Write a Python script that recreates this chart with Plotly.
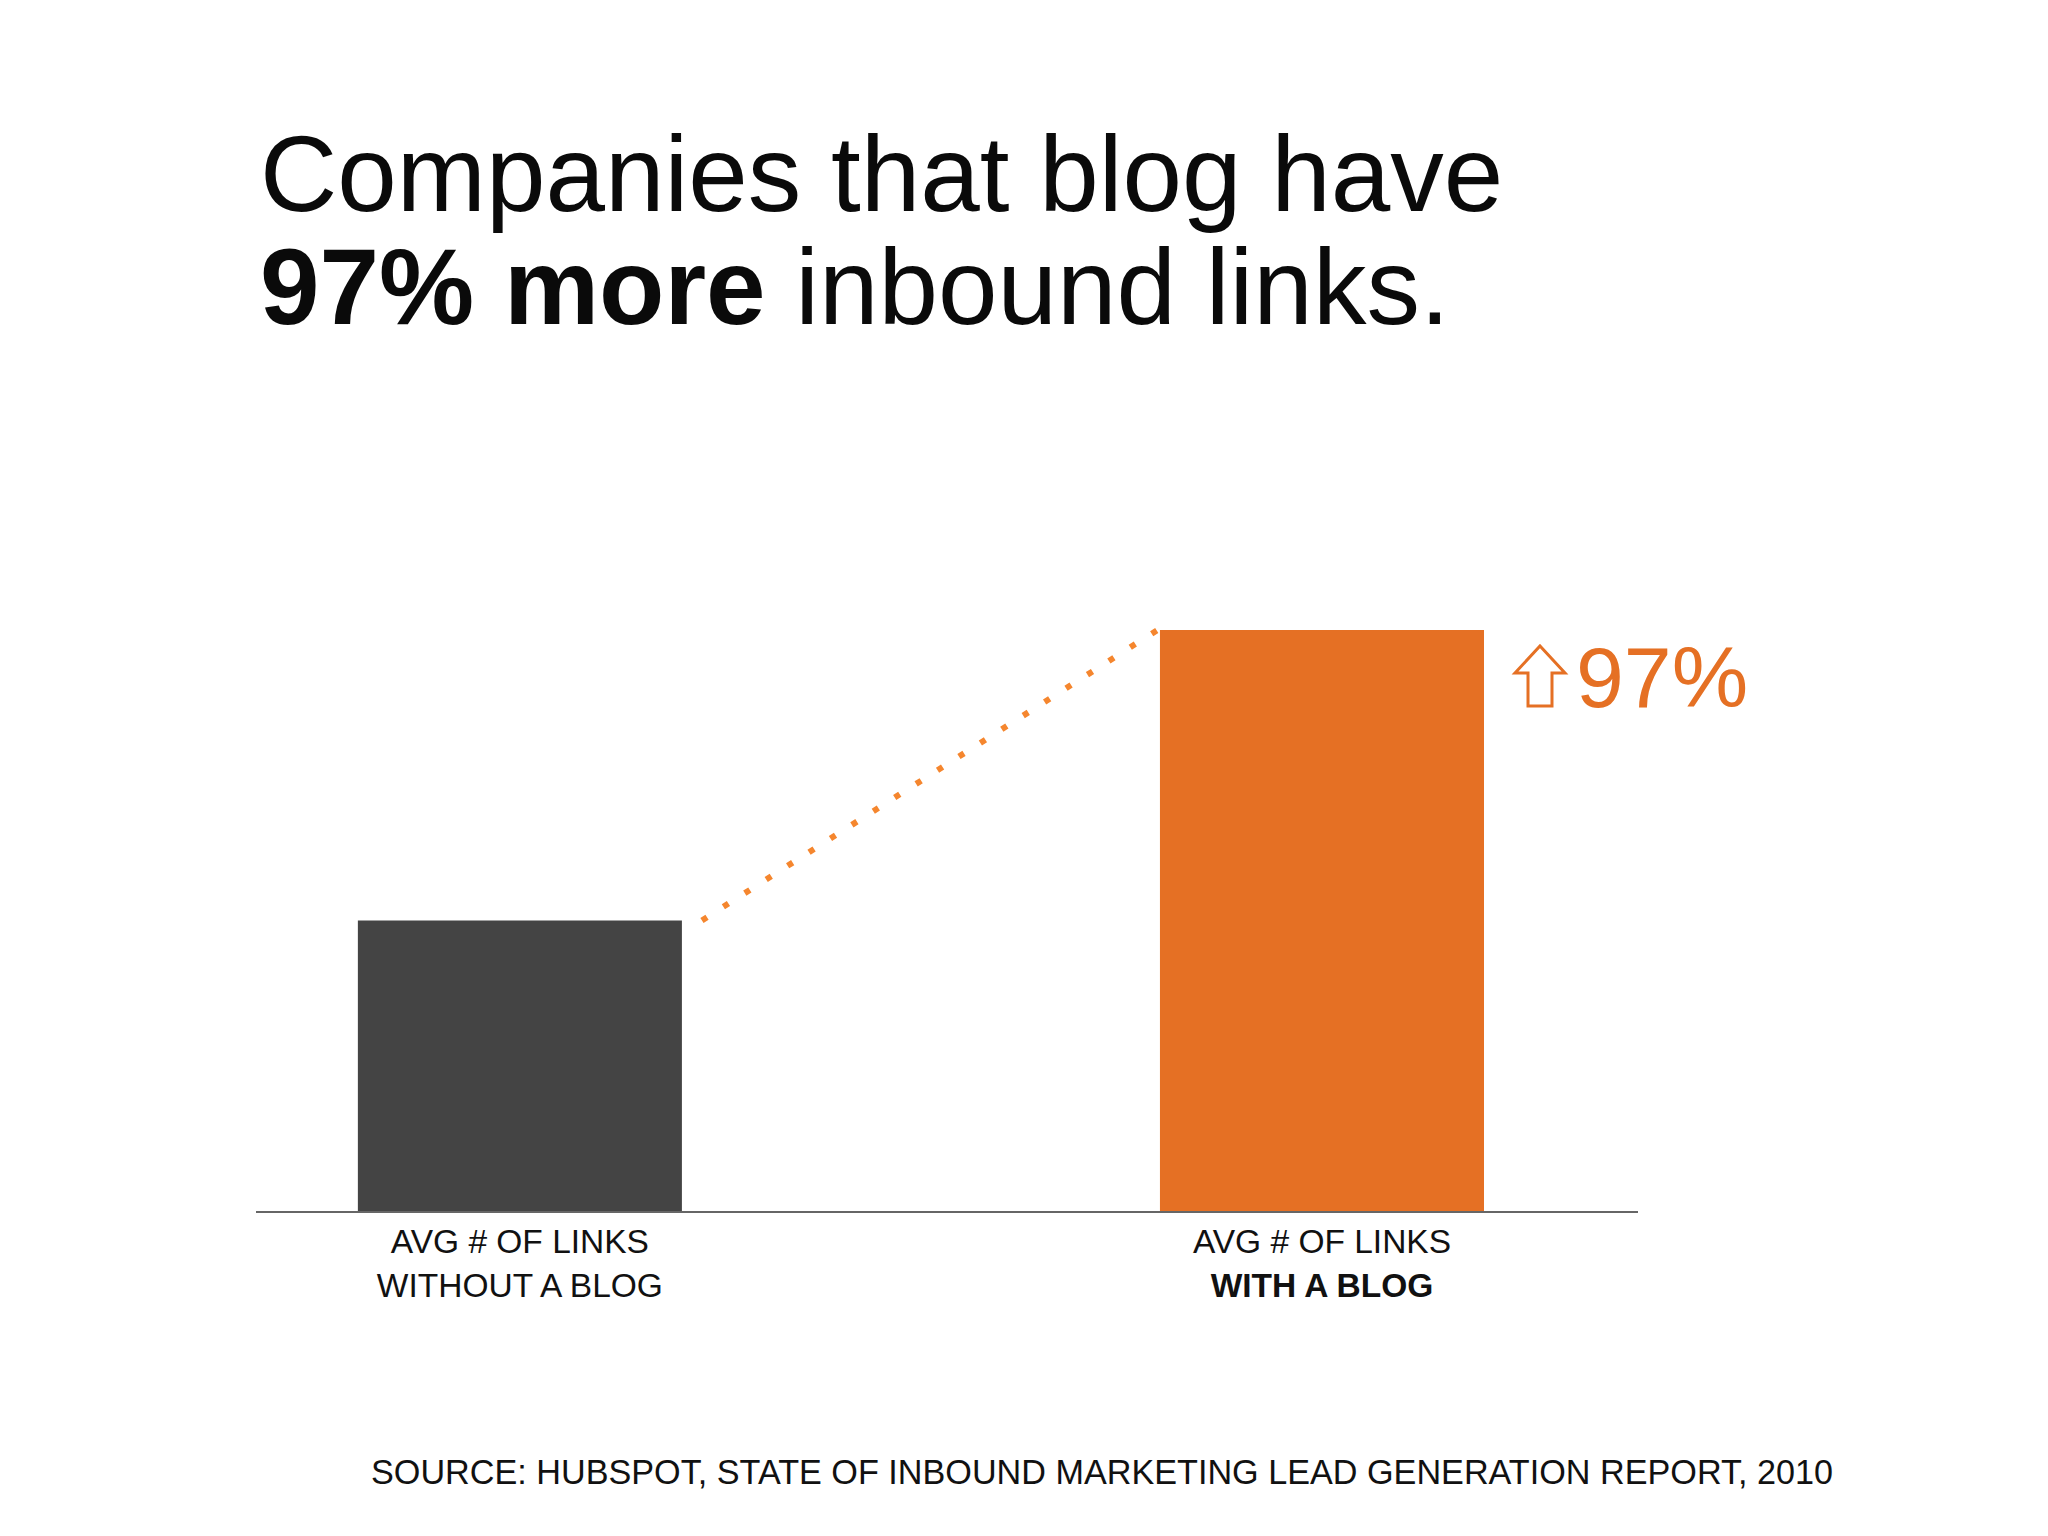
import plotly.graph_objects as go

# ---- data ----
categories = ["AVG # OF LINKS<br>WITHOUT A BLOG", "AVG # OF LINKS<br><b>WITH A BLOG</b>"]
values = [100, 200]
bar_colors = ["#444444", "#E57024"]
increase_label = "97%"
title_line1 = "Companies that blog have"
title_line2 = "<b>97% more</b> inbound links."
source_text = "SOURCE: HUBSPOT, STATE OF INBOUND MARKETING LEAD GENERATION REPORT, 2010"

OFF = 8  # page body margin
W, H = 2048, 1536
ML, MR, MT, MB = 256 - OFF, 410 + OFF, 600 - OFF, 325 + OFF
PW, PH = W - ML - MR, H - MT - MB


def px(x):
    return (x - OFF - ML) / PW


def py(y):
    return (H - MB - (y - OFF)) / PH


FONT = "Liberation Sans, Arial, Helvetica, sans-serif"
ORANGE = "#E57024"
bar_w = 0.404
xpos = list(range(len(values)))

fig = go.Figure()
fig.add_trace(go.Bar(
    x=xpos, y=values, width=bar_w,
    marker=dict(color=bar_colors, line=dict(width=0)),
    hoverinfo="skip",
))

# dotted connector between bar tops
fig.add_trace(go.Scatter(
    x=[xpos[0] + bar_w / 2 + 0.025, xpos[1] - bar_w / 2 - 0.003],
    y=[values[0], values[1]],
    mode="lines",
    line=dict(color="#F5862E", width=6, dash="6px,19.4px"),
    hoverinfo="skip",
))

annotations = [
    dict(text=title_line1, x=px(258), y=py(174), xanchor="left", yanchor="middle",
         font=dict(family=FONT, size=107, color="#0a0a0a")),
    dict(text=title_line2, x=px(258), y=py(287), xanchor="left", yanchor="middle",
         font=dict(family=FONT, size=107, color="#0a0a0a")),
    dict(text=increase_label, x=px(1574), y=py(677), xanchor="left", yanchor="middle",
         font=dict(family=FONT, size=86, color=ORANGE)),
    dict(text=source_text, x=px(1102), y=py(1472), xanchor="center", yanchor="middle",
         font=dict(family=FONT, size=34.2, color="#111111")),
]
for a in annotations:
    a.update(xref="paper", yref="paper", showarrow=False)

# outlined up arrow next to the percentage
pts = [(1540, 646), (1565, 673), (1552, 673), (1552, 706), (1528, 706),
       (1528, 673), (1515, 673)]
path = "M " + " L ".join(f"{px(x):.5f},{py(y):.5f}" for x, y in pts) + " Z"

fig.update_layout(
    width=W, height=H,
    margin=dict(l=ML, r=MR, t=MT, b=MB, pad=0),
    paper_bgcolor="white", plot_bgcolor="white",
    showlegend=False,
    hovermode=False,
    annotations=annotations,
    shapes=[dict(type="path", path=path, xref="paper", yref="paper",
                 line=dict(color=ORANGE, width=3), fillcolor="white")],
    xaxis=dict(
        range=[-0.329, 1.394], tickmode="array", tickvals=xpos, ticktext=categories,
        showgrid=False, zeroline=False, showline=True, linecolor="#666666", linewidth=2,
        ticks="", tickfont=dict(family=FONT, size=33.5, color="#111111"),
        fixedrange=True,
    ),
    yaxis=dict(range=[0, 210.3], visible=False, showgrid=False, zeroline=False,
               fixedrange=True),
)

fig.write_html("out.html")
